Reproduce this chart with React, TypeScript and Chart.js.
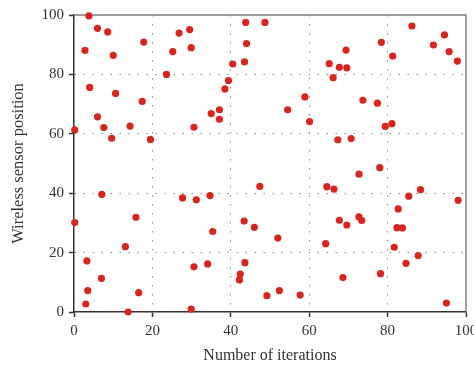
import React, { useEffect, useRef } from "react";
import { Chart, registerables } from "chart.js";

Chart.register(...registerables);

const iterations: number[] = [
  3.8, 6.0, 8.6, 2.8, 10.0, 17.8, 4.0, 10.6, 17.4, 6.0, 7.6, 9.6, 14.3, 19.5, 0.2,
  23.6, 25.2, 26.8, 29.5, 29.9, 30.6, 35.0, 37.1, 37.1, 38.5, 39.4, 40.5,
  43.8, 48.7, 44.0, 43.5, 58.9, 54.5, 60.1, 65.1, 69.4, 67.7, 69.6, 66.1, 73.7, 77.4,
  79.4, 81.1, 67.3, 70.7, 72.7, 78.0, 78.4, 81.3, 86.2, 94.5, 91.7, 95.7, 97.8,
  7.1, 0.2, 15.8, 13.1, 3.3, 7.0, 3.5, 3.0, 13.8, 16.5, 27.7, 31.2, 34.7, 35.4, 34.1,
  30.6, 29.9, 47.4, 43.4, 46.0, 52.0, 43.6, 42.4, 42.2, 49.2, 52.4, 57.7, 64.5, 66.3,
  67.7, 69.6, 72.7, 73.4, 64.2, 68.6, 78.2, 85.4, 88.4, 98.0, 82.7, 82.4, 83.8, 81.7,
  87.8, 84.7, 95.0,
];

const positions: number[] = [
  99.7, 95.5, 94.3, 88.1, 86.4, 90.9, 75.6, 73.6, 70.9, 65.7, 62.1, 58.5, 62.6, 58.1, 61.3,
  80.0, 87.7, 93.9, 95.1, 89.0, 62.2, 66.8, 68.1, 64.9, 75.1, 77.9, 83.5,
  97.5, 97.5, 90.4, 84.2, 72.4, 68.1, 64.1, 83.6, 88.2, 82.4, 82.2, 78.9, 71.3, 70.3,
  62.5, 63.4, 58.0, 58.4, 46.4, 48.6, 90.8, 86.2, 96.3, 93.3, 89.9, 87.7, 84.5,
  39.6, 30.1, 31.9, 22.0, 17.2, 11.3, 7.2, 2.7, 0.0, 6.5, 38.4, 37.8, 39.2, 27.1, 16.2,
  15.2, 1.0, 42.3, 30.6, 28.5, 24.9, 16.6, 12.8, 10.8, 5.5, 7.2, 5.7, 42.2, 41.4,
  30.9, 29.3, 32.0, 30.8, 23.0, 11.6, 12.9, 39.0, 41.2, 37.6, 34.7, 28.4, 28.3, 21.8,
  19.0, 16.4, 3.0,
];

const tickValues: number[] = [0, 20, 40, 60, 80, 100];
const xTitle = "Number of iterations";
const yTitle = "Wireless sensor position";

const FONT = "'Liberation Serif', 'DejaVu Serif', serif";

const framePlugin = {
  id: "frame",
  beforeDatasetsDraw(chart: any) {
    const { ctx, chartArea } = chart;
    ctx.save();
    ctx.strokeStyle = "#808080";
    ctx.lineWidth = 1.5;
    ctx.beginPath();
    ctx.moveTo(chartArea.left, chartArea.top);
    ctx.lineTo(chartArea.right, chartArea.top);
    ctx.lineTo(chartArea.right, chartArea.bottom);
    ctx.stroke();
    ctx.restore();
  },
};

export default function App() {
  const ref = useRef<HTMLCanvasElement | null>(null);

  useEffect(() => {
    document.body.style.margin = "0";
    const canvas = ref.current;
    if (!canvas) return;
    const data = iterations.map((x, i) => ({ x, y: positions[i] }));
    const gridColor = (c: any) =>
      c.tick && (c.tick.value === 0 || c.tick.value === 100) ? "rgba(0,0,0,0)" : "#8a8a8a";
    const axisCommon = (title: string, titleSize: number) => ({
      type: "linear" as const,
      min: 0,
      max: 100,
      afterBuildTicks: (s: any) => {
        s.ticks = tickValues.map((v) => ({ value: v }));
      },
      grid: {
        color: gridColor,
        lineWidth: 1,
        drawTicks: true,
        tickLength: 5,
        tickColor: "#333",
        tickWidth: 1.5,
      },
      border: { display: true, color: "#333", width: 1.5, dash: [1.5, 7.5] },
      ticks: {
        color: "#333",
        font: { family: FONT, size: 15 },
        padding: 5,
      },
      title: {
        display: true,
        text: title,
        color: "#333",
        font: { family: FONT, size: titleSize },
      },
    });

    const xAxis: any = axisCommon(xTitle, 16);
    xAxis.afterFit = (s: any) => {
      s.height = 56;
      s.paddingLeft = 0;
      s.paddingRight = 0;
    };
    xAxis.title.padding = { top: 4, bottom: 3 };
    const yAxis: any = axisCommon(yTitle, 16.5);
    yAxis.afterFit = (s: any) => {
      s.width = 74;
      s.paddingTop = 0;
      s.paddingBottom = 0;
    };
    yAxis.title.padding = { top: 9, bottom: 0 };

    const chart = new Chart(canvas, {
      type: "scatter",
      data: {
        datasets: [
          {
            data,
            backgroundColor: "#d8261e",
            borderColor: "#d8261e",
            borderWidth: 0,
            pointRadius: 3.6,
            pointHoverRadius: 3.6,
            clip: false as any,
          },
        ],
      },
      options: {
        animation: false,
        responsive: false,
        devicePixelRatio: 1,
        layout: { padding: { left: 0, top: 15, right: 8, bottom: 0 } },
        plugins: { legend: { display: false }, tooltip: { enabled: false } },
        scales: { x: xAxis, y: yAxis },
      },
      plugins: [framePlugin],
    });
    return () => chart.destroy();
  }, []);

  return (
    <div style={{ width: 474, height: 368, background: "#fff" }}>
      <canvas ref={ref} width={474} height={368} />
    </div>
  );
}
